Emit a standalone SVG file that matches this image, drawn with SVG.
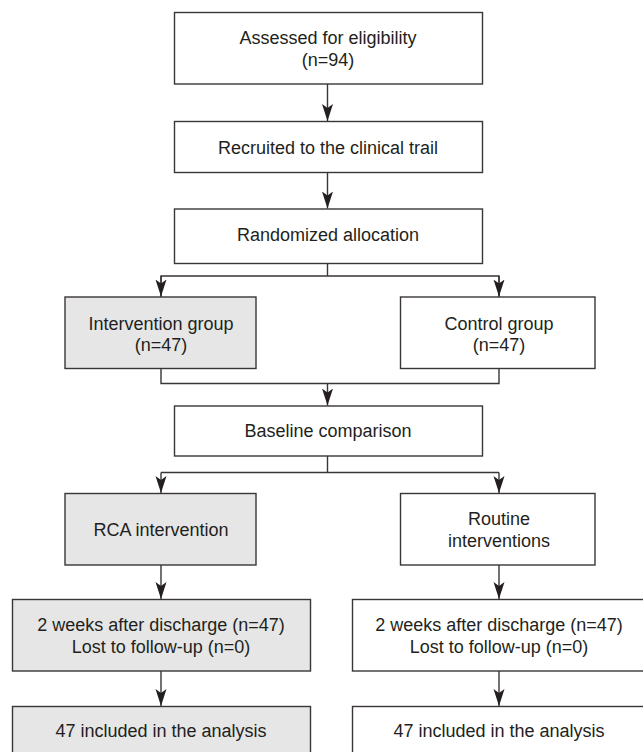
<svg xmlns="http://www.w3.org/2000/svg" width="643" height="752" viewBox="0 0 643 752">
<defs>
<style>
.box{fill:#ffffff;stroke:#3a3536;stroke-width:1.4}
.gray{fill:#e6e6e6}
.t{font-family:"Liberation Sans",Arial,Helvetica,sans-serif;font-size:18px;fill:#231f20;text-anchor:middle}
.c{fill:none;stroke:#3a3536;stroke-width:1.4}
</style>
<marker id="ah" markerUnits="userSpaceOnUse" markerWidth="20" markerHeight="14" refX="17" refY="6" orient="auto">
<path d="M0,0.5 L17,6 L0,11.5 L4,6 Z" fill="#231f20"/>
</marker>
</defs>
<rect width="643" height="752" fill="#ffffff"/>
<g id="connectors">
<path class="c" d="M327.5,84 V121" marker-end="url(#ah)"/>
<path class="c" d="M327.5,172.5 V208.5" marker-end="url(#ah)"/>
<path class="c" d="M327.5,263.5 V276 M161,297 V276 H499 V297"/>
<path class="c" d="M161,276 V296.5" marker-end="url(#ah)"/>
<path class="c" d="M499,276 V296.5" marker-end="url(#ah)"/>
<path class="c" d="M161,368.5 V383.5 H499 V368.5"/>
<path class="c" d="M327.5,383.5 V405.5" marker-end="url(#ah)"/>
<path class="c" d="M327.5,456 V472.5 H161 M327.5,472.5 H499"/>
<path class="c" d="M161,472.5 V493" marker-end="url(#ah)"/>
<path class="c" d="M499,472.5 V493" marker-end="url(#ah)"/>
<path class="c" d="M161,565 V599" marker-end="url(#ah)"/>
<path class="c" d="M499,565 V599" marker-end="url(#ah)"/>
<path class="c" d="M161,671 V706" marker-end="url(#ah)"/>
<path class="c" d="M499,671 V706" marker-end="url(#ah)"/>
</g>
<g id="assessed">
<rect class="box" x="174.5" y="12.5" width="308" height="71.5"/>
<text class="t" x="328" y="44">Assessed for eligibility</text>
<text class="t" x="328" y="66">(n=94)</text>
</g>
<g id="recruited">
<rect class="box" x="174.5" y="121.5" width="308" height="51"/>
<text class="t" x="328" y="154">Recruited to the clinical trail</text>
</g>
<g id="randomized">
<rect class="box" x="174.5" y="209" width="308" height="54.5"/>
<text class="t" x="328" y="241">Randomized allocation</text>
</g>
<g id="intervention-group">
<rect class="box gray" x="65" y="297" width="191" height="71.5"/>
<text class="t" x="161" y="329.5">Intervention group</text>
<text class="t" x="161" y="351">(n=47)</text>
</g>
<g id="control-group">
<rect class="box" x="400.5" y="297" width="194.5" height="71.5"/>
<text class="t" x="499" y="329.5">Control group</text>
<text class="t" x="499" y="351">(n=47)</text>
</g>
<g id="baseline">
<rect class="box" x="174.5" y="406" width="308" height="50"/>
<text class="t" x="328" y="437">Baseline comparison</text>
</g>
<g id="rca">
<rect class="box gray" x="65" y="493.5" width="191" height="71.5"/>
<text class="t" x="161" y="536">RCA intervention</text>
</g>
<g id="routine">
<rect class="box" x="400.5" y="493.5" width="194.5" height="71.5"/>
<text class="t" x="499" y="525">Routine</text>
<text class="t" x="499" y="547">interventions</text>
</g>
<g id="followup-rca">
<rect class="box gray" x="12.5" y="599.5" width="298" height="71.5"/>
<text class="t" x="161" y="631">2 weeks after discharge (n=47)</text>
<text class="t" x="161" y="653">Lost to follow-up (n=0)</text>
</g>
<g id="followup-routine">
<rect class="box" x="352.5" y="599.5" width="296" height="71.5"/>
<text class="t" x="499" y="631">2 weeks after discharge (n=47)</text>
<text class="t" x="499" y="653">Lost to follow-up (n=0)</text>
</g>
<g id="analysis-rca">
<rect class="box gray" x="12.5" y="706.5" width="298" height="60"/>
<text class="t" x="161" y="737">47 included in the analysis</text>
</g>
<g id="analysis-routine">
<rect class="box" x="352.5" y="706.5" width="296" height="60"/>
<text class="t" x="499" y="737">47 included in the analysis</text>
</g>
</svg>
